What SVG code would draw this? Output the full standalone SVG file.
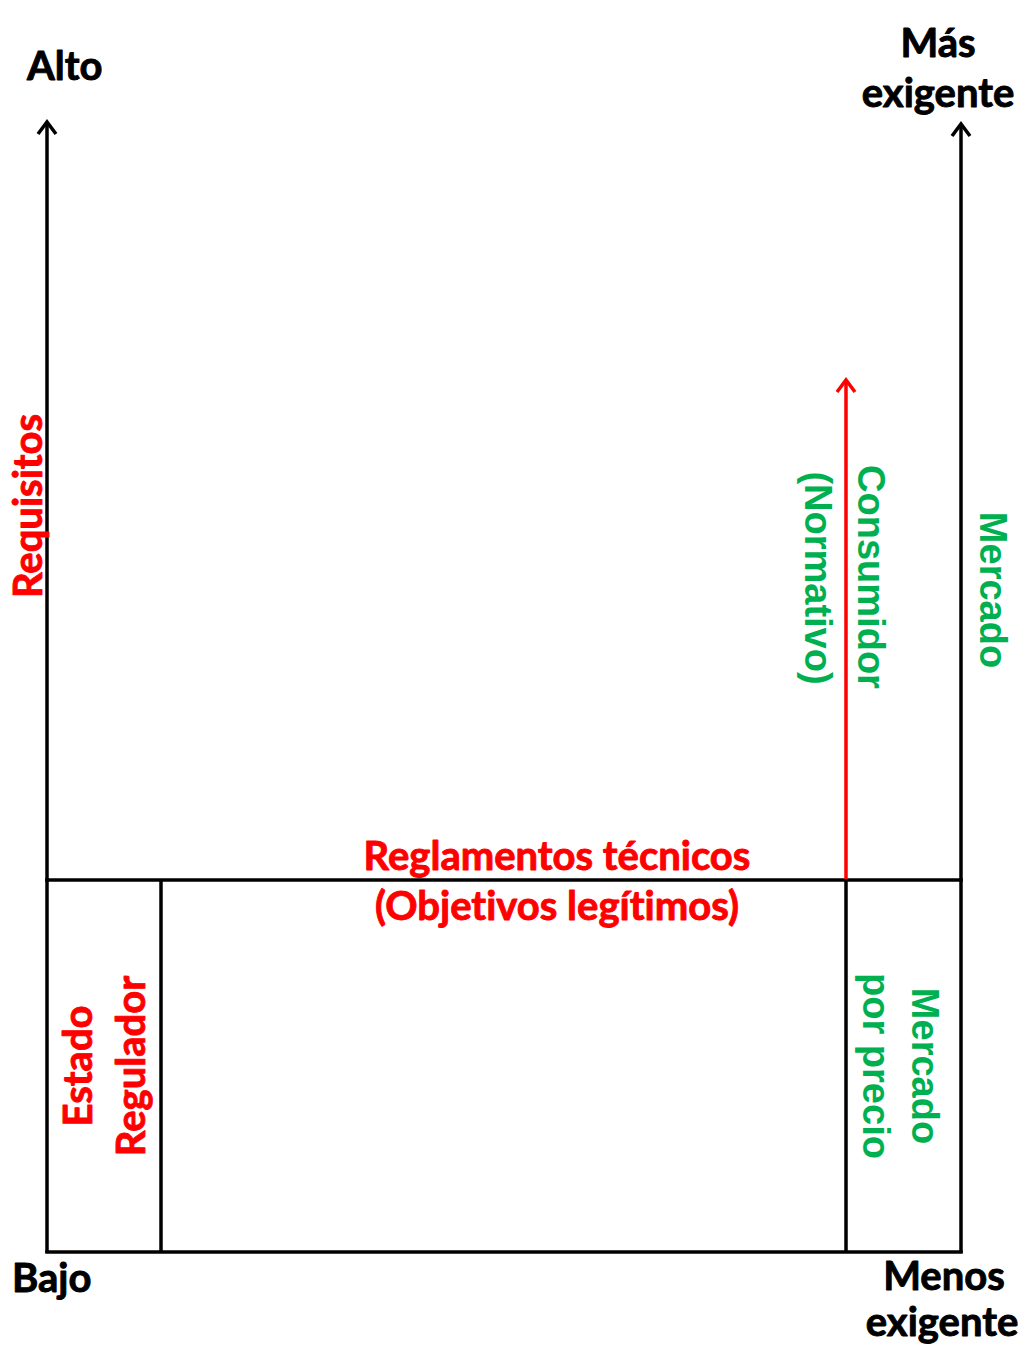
<svg xmlns="http://www.w3.org/2000/svg" width="1023" height="1364" viewBox="0 0 1023 1364">
<style>
.k,.r{font-family:Lato,"Open Sans","Liberation Sans",sans-serif;font-weight:700;font-size:40px;font-variant-ligatures:none;stroke-width:0.9px;stroke-linejoin:round}
.k{fill:#000;stroke:#000}
.r{fill:#FF0000;stroke:#FF0000}
.g{font-family:"Liberation Sans",Arial,sans-serif;font-weight:700;font-size:38px;fill:#00B050}
.ln{stroke:#000;stroke-width:3.5;fill:none}
.rl{stroke:#FF0000;stroke-width:3.5;fill:none}
</style>
<defs>
<marker id="ak" viewBox="-16 -12 20 24" markerWidth="20" markerHeight="24" markerUnits="userSpaceOnUse" refX="0" refY="0" orient="auto">
<path d="M-12,-9 L0,0 L-12,9" fill="none" stroke="#000" stroke-width="3.5"/>
</marker>
<marker id="ar" viewBox="-16 -12 20 24" markerWidth="20" markerHeight="24" markerUnits="userSpaceOnUse" refX="0" refY="0" orient="auto">
<path d="M-12,-9 L0,0 L-12,9" fill="none" stroke="#FF0000" stroke-width="3.5"/>
</marker>
</defs>
<rect width="1023" height="1364" fill="#fff"/>
<g id="connectors">
<line class="ln" x1="47" y1="1253" x2="47" y2="122" marker-end="url(#ak)"/>
<line class="ln" x1="961" y1="1253" x2="961" y2="124" marker-end="url(#ak)"/>
<line class="ln" x1="45.25" y1="1252" x2="962.75" y2="1252"/>
<line class="ln" x1="45.25" y1="880" x2="962.75" y2="880"/>
<line class="ln" x1="161" y1="880" x2="161" y2="1252"/>
<line class="ln" x1="846" y1="880" x2="846" y2="1252"/>
<line class="rl" x1="846" y1="879" x2="846" y2="380" marker-end="url(#ar)"/>
</g>
<g id="alto"><text class="k" x="27" y="80">Alto</text></g>
<g id="bajo"><text class="k" x="12" y="1292">Bajo</text></g>
<g id="mas-exigente"><text class="k" text-anchor="middle" x="938" y="57">Más</text><text class="k" text-anchor="middle" x="938" y="107">exigente</text></g>
<g id="menos-exigente"><text class="k" text-anchor="middle" x="944" y="1290">Menos</text><text class="k" text-anchor="middle" x="942" y="1336">exigente</text></g>
<g id="requisitos"><text class="r" text-anchor="middle" transform="translate(42,506) rotate(-90)">Requisitos</text></g>
<g id="reglamentos"><text class="r" text-anchor="middle" x="557" y="870">Reglamentos técnicos</text><text class="r" text-anchor="middle" x="557" y="920">(Objetivos legítimos)</text></g>
<g id="estado-regulador"><text class="r" text-anchor="middle" transform="translate(92,1066) rotate(-90)">Estado</text><text class="r" text-anchor="middle" transform="translate(145,1066) rotate(-90)">Regulador</text></g>
<g id="consumidor"><text class="g" text-anchor="middle" transform="translate(858,577) rotate(90)">Consumidor</text><text class="g" text-anchor="middle" transform="translate(805,578) rotate(90)">(Normativo)</text></g>
<g id="mercado"><text class="g" text-anchor="middle" transform="translate(980,590) rotate(90)">Mercado</text></g>
<g id="mercado-precio"><text class="g" text-anchor="middle" transform="translate(912,1066) rotate(90)">Mercado</text><text class="g" text-anchor="middle" transform="translate(863,1066) rotate(90)">por precio</text></g>
</svg>
